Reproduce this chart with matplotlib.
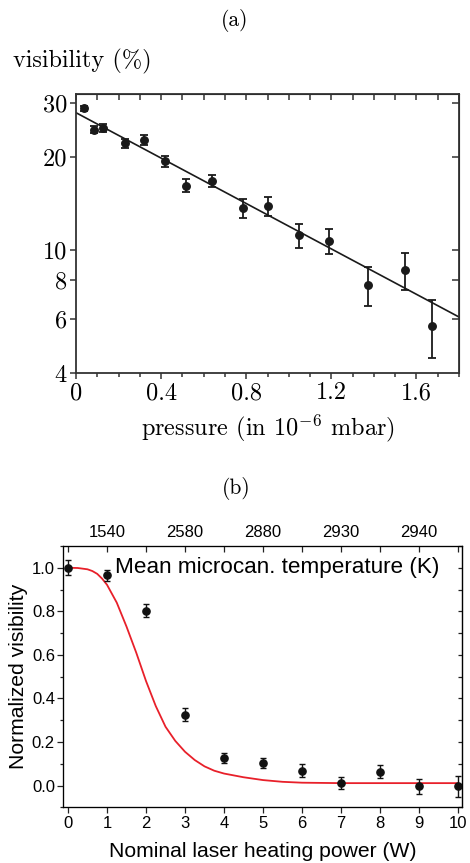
import numpy as np
import matplotlib
matplotlib.use('Agg')
import matplotlib.pyplot as plt
from matplotlib.ticker import FixedLocator, NullFormatter, MultipleLocator

# Panel (a) data: visibility vs pressure.
pressure = [0.037, 0.083, 0.128, 0.23, 0.319, 0.416, 0.519, 0.641, 0.783, 0.903,
            1.047, 1.19, 1.373, 1.546, 1.674]
visibility = [28.8, 24.6, 24.9, 22.2, 22.8, 19.4, 16.2, 16.8, 13.7, 13.9,
              11.2, 10.7, 7.72, 8.63, 5.69]
visibility_err = [0.5, 0.7, 0.7, 0.7, 0.8, 0.75, 0.8, 0.8, 1.0, 0.95,
                  1.0, 1.0, 1.1, 1.2, 1.2]
fit_v0 = 27.9
fit_rate = 0.846

# Panel (b) data: normalized visibility vs heating power.
power = [0, 1, 2, 3, 4, 5, 6, 7, 8, 9, 10]
norm_vis = [1.0, 0.965, 0.803, 0.325, 0.127, 0.104, 0.069, 0.011, 0.064, -0.003, -0.003]
norm_err = [0.035, 0.027, 0.029, 0.03, 0.022, 0.022, 0.029, 0.027, 0.031, 0.034, 0.048]
model_power = [0, 0.25, 0.5, 0.625, 0.75, 0.875, 1.0, 1.25, 1.5, 1.75, 2.0, 2.25, 2.5,
               2.75, 3.0, 3.25, 3.5, 3.75, 4.0, 4.5, 5.0, 5.5, 6.0, 7.0, 8.0, 9.0, 10.0]
model_vis = [1.0, 0.999, 0.993, 0.985, 0.972, 0.95, 0.922, 0.84, 0.73, 0.61, 0.48,
             0.365, 0.27, 0.205, 0.155, 0.117, 0.088, 0.068, 0.055, 0.038, 0.025,
             0.017, 0.013, 0.011, 0.011, 0.011, 0.011]
temp_pos = [1, 3, 5, 7, 9]
temp_labels = ['1540', '2580', '2880', '2930', '2940']

plt.rcParams['mathtext.fontset'] = 'cm'
plt.rcParams['axes.unicode_minus'] = False

W, H = 470, 863
fig = plt.figure(figsize=(W / 100, H / 100), dpi=100)

# ---------------- Panel (a) ----------------
serif = 'cmr10'
ax1 = fig.add_axes([76 / W, 1 - 373.3 / H, 383 / W, 279 / H])
x_fit = np.linspace(0, 1.8, 100)
ax1.plot(x_fit, fit_v0 * np.exp(-fit_rate * x_fit), color='#1a1a1a', lw=1.2)
ax1.errorbar(pressure, visibility, yerr=visibility_err, fmt='o', color='#1a1a1a',
             ms=5.4, capsize=3.2, elinewidth=1.3, capthick=1.3)
ax1.set_yscale('log')
ax1.set_xlim(0, 1.8)
ax1.set_ylim(4, 32)
ax1.yaxis.set_major_locator(FixedLocator([4, 6, 8, 10, 20, 30]))
ax1.yaxis.set_minor_locator(FixedLocator([]))
ax1.set_yticklabels(['4', '6', '8', '10', '20', '30'])
ax1.yaxis.set_minor_formatter(NullFormatter())
ax1.xaxis.set_major_locator(FixedLocator([0, 0.4, 0.8, 1.2, 1.6]))
ax1.set_xticklabels(['0', '0.4', '0.8', '1.2', '1.6'])
ax1.xaxis.set_minor_locator(MultipleLocator(0.1))
for s in ax1.spines.values():
    s.set_linewidth(1.3)
    s.set_color('#333333')
ax1.tick_params(which='both', direction='out', top=False, right=False,
                labelsize=17.5, color='#333333', width=1.1, pad=2.5)
ax1.tick_params(which='major', length=4)
ax1.tick_params(which='minor', length=3)
for lab in ax1.get_xticklabels() + ax1.get_yticklabels():
    lab.set_family(serif)
# mirrored inward ticks on top and right
ax1t = ax1.secondary_xaxis('top')
ax1t.xaxis.set_major_locator(MultipleLocator(0.1))
ax1t.tick_params(direction='in', length=4, width=1.1, color='#333333', labeltop=False)
ax1r = ax1.secondary_yaxis('right')
ax1r.yaxis.set_major_locator(FixedLocator([6, 8, 10, 20, 30]))
ax1r.yaxis.set_minor_locator(FixedLocator([]))
ax1r.tick_params(which='both', direction='in', length=5, width=1.1, color='#333333',
                 labelright=False)
ax1.set_xlabel(r'pressure (in $10^{-6}$ mbar)', family=serif, fontsize=17.5, labelpad=6)
fig.text(235 / W, 1 - 21 / H, '(a)', family=serif, fontsize=15.5, ha='center', va='center')
fig.text(13 / W, 1 - 61 / H, 'visibility (%)', family=serif, fontsize=17.5, ha='left', va='center')

# ---------------- Panel (b) ----------------
sans = 'Liberation Sans'
ax2 = fig.add_axes([63.3 / W, 1 - 807.3 / H, 398.7 / W, 261.3 / H])
ax2.plot(model_power, model_vis, color='#e8202a', lw=1.3)
ax2.errorbar(power, norm_vis, yerr=norm_err, fmt='o', color='#111111',
             ms=5.2, capsize=2.2, elinewidth=1.0, capthick=1.0)
ax2.set_xlim(-0.12, 10.1)
ax2.set_ylim(-0.1, 1.1)
ax2.xaxis.set_major_locator(MultipleLocator(1))
ax2.yaxis.set_major_locator(FixedLocator([0, 0.2, 0.4, 0.6, 0.8, 1.0]))
ax2.yaxis.set_minor_locator(MultipleLocator(0.1))
ax2.set_yticklabels(['0.0', '0.2', '0.4', '0.6', '0.8', '1.0'])
for s in ax2.spines.values():
    s.set_linewidth(0.9)
    s.set_color('#222222')
ax2.tick_params(which='both', direction='out', labelsize=12, width=0.9, color='#222222', pad=2)
ax2.tick_params(which='major', length=4)
ax2.tick_params(which='minor', length=2.5)
for lab in ax2.get_xticklabels() + ax2.get_yticklabels():
    lab.set_family(sans)
ax2t = ax2.twiny()
ax2t.set_xlim(ax2.get_xlim())
ax2t.set_xticks(range(0, 11))
ax2t.set_xticklabels([temp_labels[temp_pos.index(i)] if i in temp_pos else '' for i in range(0, 11)],
                     family=sans, fontsize=12)
ax2t.tick_params(direction='in', length=4, width=0.9, color='#222222', pad=4)
ax2r = ax2.secondary_yaxis('right')
ax2r.yaxis.set_major_locator(MultipleLocator(0.1))
ax2r.tick_params(direction='in', length=3, width=0.9, color='#222222', labelright=False)
ax2.text(0.942, 0.918, 'Mean microcan. temperature (K)', transform=ax2.transAxes,
         family=sans, fontsize=16.2, ha='right', va='center')
ax2.set_ylabel('Normalized visibility', family=sans, fontsize=15.2, labelpad=3)
ax2.set_xlabel('Nominal laser heating power (W)', family=sans, fontsize=15.2, labelpad=8)
fig.text(236 / W, 1 - 488 / H, '(b)', family=serif, fontsize=15.5, ha='center', va='center')

fig.savefig('out.png', dpi=100)
